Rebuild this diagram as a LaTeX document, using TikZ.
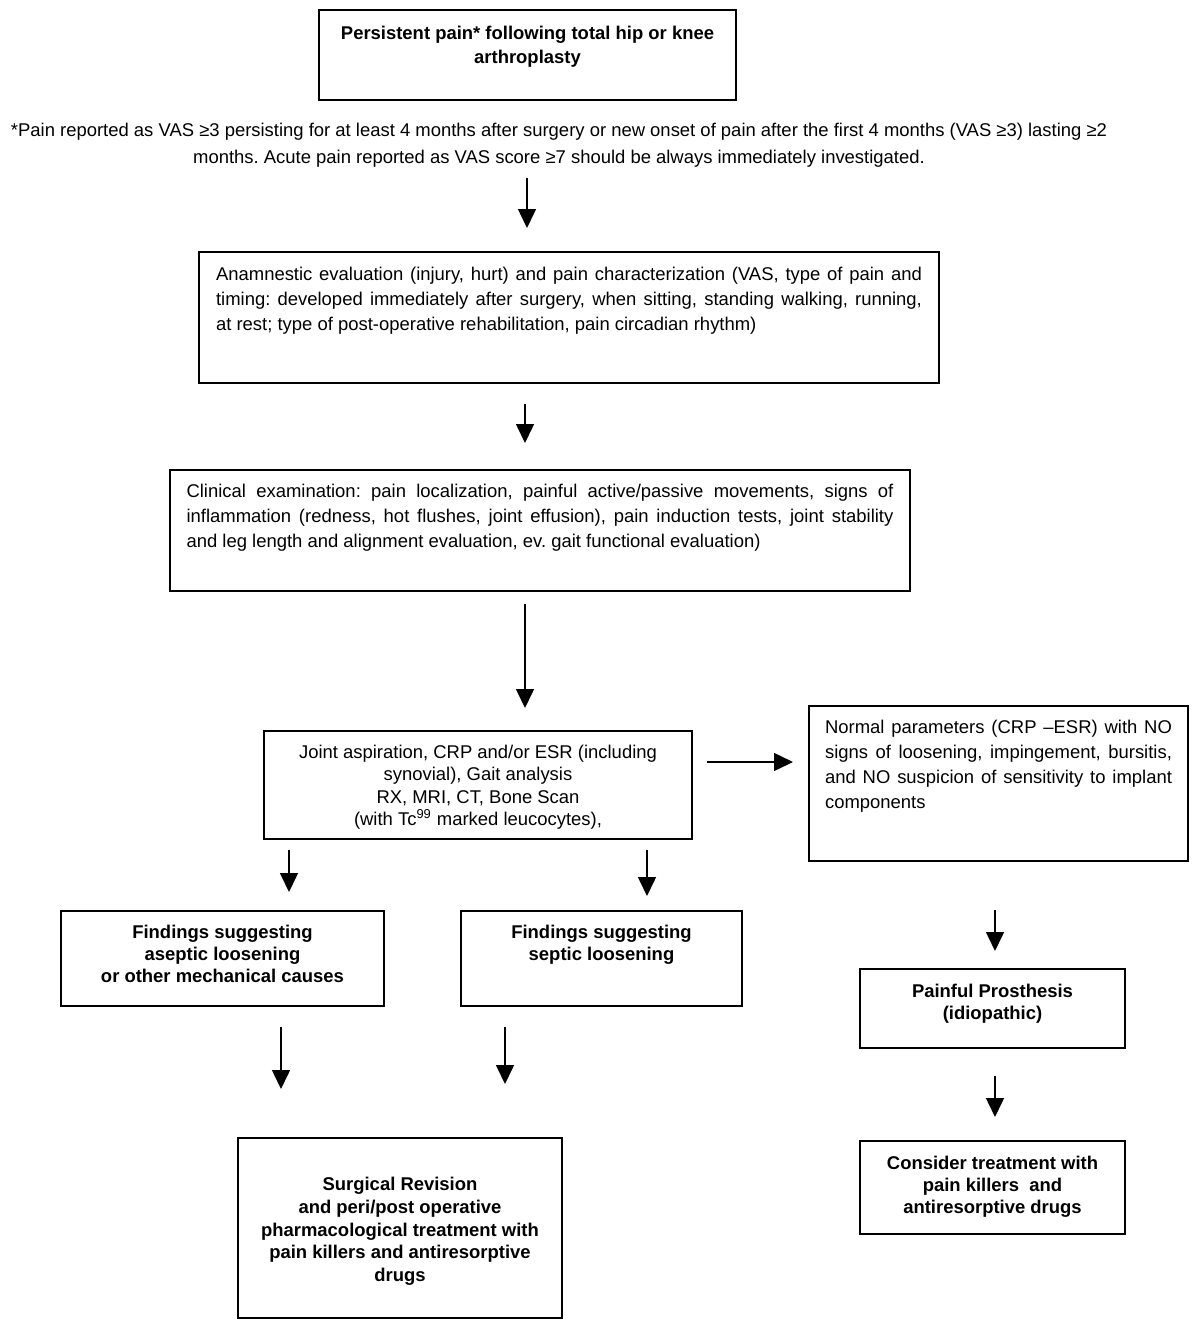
\documentclass[tikz,border=0pt]{standalone}
\usepackage{fontspec}
\setmainfont{Liberation Sans}
\usetikzlibrary{arrows.meta}

\newcommand{\inbox}[4]{\parbox[c][#1][t]{#2}{\hyphenpenalty=10000\vspace*{#3}#4}}
\frenchspacing

\begin{document}
\begin{tikzpicture}[x=0.02cm, y=-0.02cm,
    font=\fontsize{10.5}{14.2}\selectfont,
    box/.style={draw, line width=1.1pt, inner ysep=0pt},
    arr/.style={line width=0.85pt, -{Triangle[length=0.38cm, width=0.36cm]}}]
    \useasboundingbox (0,0) rectangle (1200,1330);

    % Starting point
    \node[box, inner xsep=0.17cm] (pain) at (527.5,55)
        {\inbox{1.8cm}{8cm}{0.33cm}{\centering\bfseries\fontsize{10.5}{13.6}\selectfont
        Persistent pain* following total hip or knee\\ arthroplasty}};
    \node[align=center, inner sep=0pt, font=\fontsize{10.5}{15.4}\selectfont] (note) at (559,145)
        {*Pain reported as VAS ≥3 persisting for at least 4 months after surgery or new onset of pain after the first 4 months (VAS ≥3) lasting ≥2\\
        months. Acute pain reported as VAS score ≥7 should be always immediately investigated.};

    % Evaluation
    \node[box, inner xsep=0.34cm] (anam) at (569,317.5)
        {\inbox{2.62cm}{14.12cm}{0.3cm}{Anamnestic evaluation (injury, hurt) and pain characterization (VAS, type of pain and\linebreak
        timing: developed immediately after surgery, when sitting, standing walking, running,\linebreak
        at rest; type of post-operative rehabilitation, pain circadian rhythm)}};
    \node[box, inner xsep=0.33cm] (clin) at (540,530.5)
        {\inbox{2.42cm}{14.14cm}{0.29cm}{Clinical examination: pain localization, painful active/passive movements, signs of\linebreak
        inflammation (redness, hot flushes, joint effusion), pain induction tests, joint stability\linebreak
        and leg length and alignment evaluation, ev. gait functional evaluation)}};

    % Tests
    \node[box, inner xsep=0.18cm] (tests) at (478,785)
        {\inbox{2.16cm}{8.2cm}{0.28cm}{\centering\fontsize{10.5}{12.7}\selectfont
        Joint aspiration, CRP and/or ESR (including\\ synovial), Gait analysis\\ RX, MRI, CT, Bone Scan\\
        (with Tc\textsuperscript{99} marked leucocytes),}};
    \node[box, inner xsep=0.32cm] (normal) at (998.5,783.5)
        {\inbox{3.1cm}{6.94cm}{0.28cm}{Normal parameters (CRP –ESR) with NO\linebreak
        signs of loosening, impingement, bursitis,\linebreak
        and NO suspicion of sensitivity to implant\linebreak components}};

    % Findings
    \node[box, inner xsep=0.13cm] (aseptic) at (222.5,958.5)
        {\inbox{1.9cm}{6.2cm}{0.28cm}{\centering\bfseries\fontsize{10.5}{12.5}\selectfont
        Findings suggesting\\ aseptic loosening\\ or other mechanical causes}};
    \node[box, inner xsep=0.11cm] (septic) at (601.5,958.5)
        {\inbox{1.9cm}{5.4cm}{0.28cm}{\centering\bfseries\fontsize{10.5}{12.5}\selectfont
        Findings suggesting\\ septic loosening}};
    \node[box, inner xsep=0.1cm] (idiop) at (992.5,1008.5)
        {\inbox{1.58cm}{5.1cm}{0.3cm}{\centering\bfseries\fontsize{10.5}{12.5}\selectfont
        Painful Prosthesis\\ (idiopathic)}};

    % Treatment
    \node[box, inner xsep=0.14cm] (surgery) at (400,1228)
        {\inbox{3.6cm}{6.2cm}{0.79cm}{\centering\bfseries\fontsize{10.5}{12.9}\selectfont
        Surgical Revision\\ and peri/post operative\\ pharmacological treatment with\\
        pain killers and antiresorptive\\ drugs}};
    \node[box, inner xsep=0.1cm] (consider) at (992.5,1187.5)
        {\inbox{1.86cm}{5.1cm}{0.3cm}{\centering\bfseries\fontsize{10.5}{12.5}\selectfont
        Consider treatment with\\ pain killers \ and\\ antiresorptive drugs}};

    % Arrows
    \foreach \n/\x/\ya/\yb in {a1/527/178/228, a2/525/404/443, a3/525/604/708,
            a5/289/850/892, a6/647/850/896, a7/281/1027/1089, a8/505/1027/1084,
            a9/995/910/951, a10/995/1076/1117} {
        \coordinate (\n s) at (\x,\ya);
        \coordinate (\n e) at (\x,\yb);
        \draw[arr] (\n s) -- (\n e);
    }
    \coordinate (a4s) at (707,762);
    \coordinate (a4e) at (793,762);
    \draw[arr] (a4s) -- (a4e);
\end{tikzpicture}
\end{document}
